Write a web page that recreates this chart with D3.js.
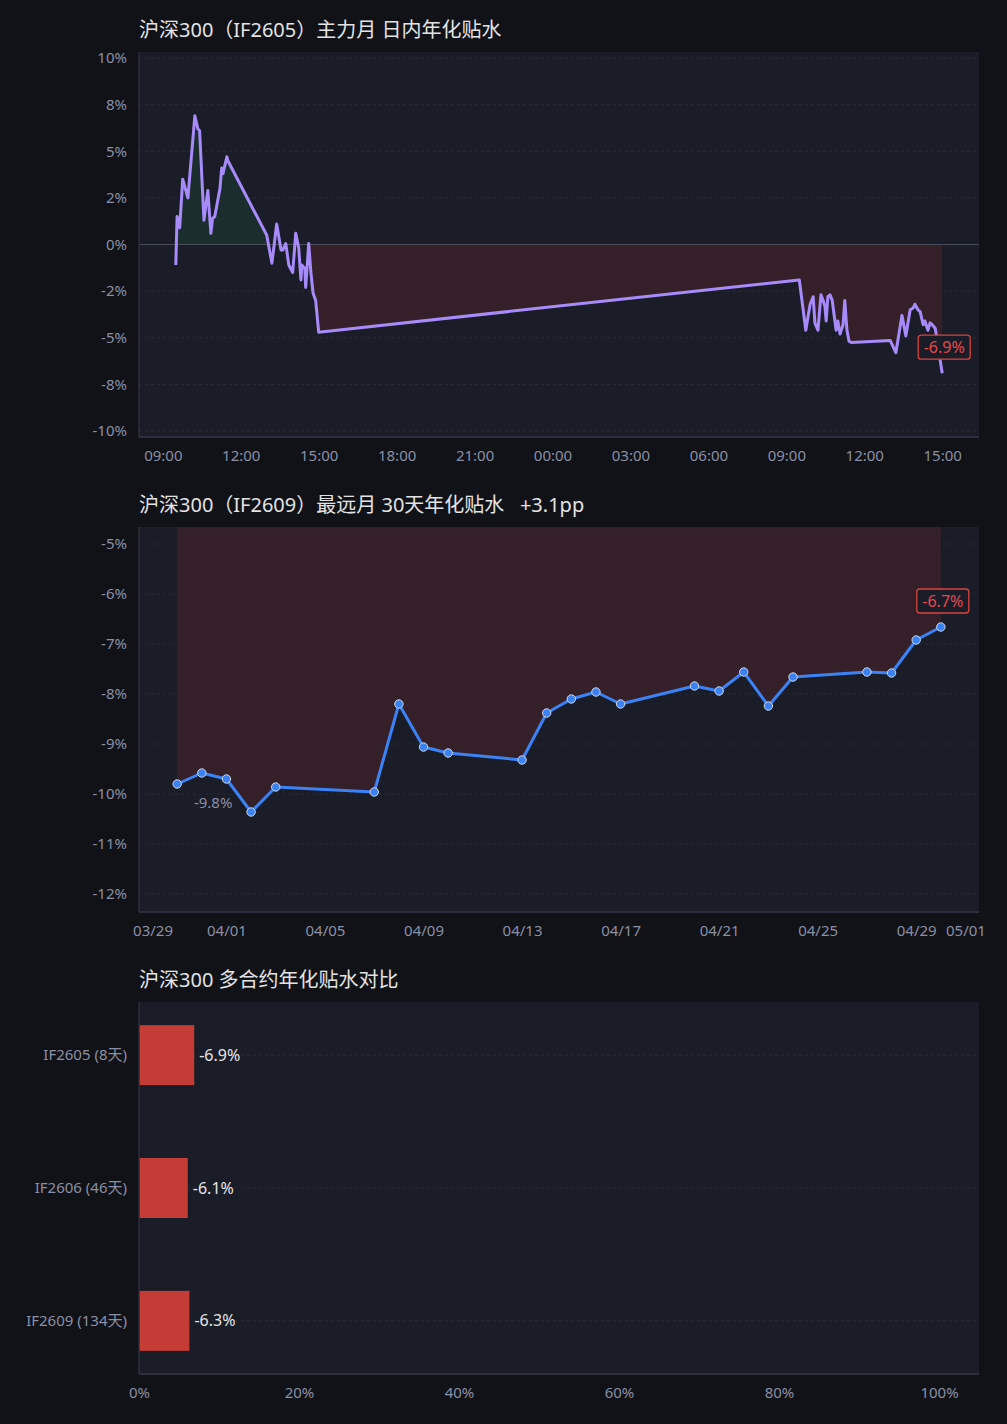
<!DOCTYPE html>
<html lang="zh">
<head>
<meta charset="UTF-8">
<script src="https://d3js.org/d3.v7.min.js"></script>
<style>
body { margin: 0; background: #111217; font-family: "Noto Sans", "Noto Sans CJK SC", sans-serif; }
svg { display: block; }
.tick text { fill: #8a8fa3; font-size: 15px; font-family: "Noto Sans", "Noto Sans CJK SC", sans-serif; }
.grid line { stroke: #272b37; stroke-dasharray: 3,3; }
.title { fill: #e3e3e3; font-size: 20px; white-space: pre; font-family: "Noto Sans", "Noto Sans CJK KR", sans-serif; }
</style>
</head>
<body>
<svg id="chart" width="1007" height="1424"></svg>
<script>
// IF2605 intraday, two sessions
var day1Time = ["09:30","09:33","09:39","09:46","09:58","10:14","10:21","10:25","10:35","10:44","10:51","10:55","11:00","11:12","11:16","11:19","11:28","11:30",
                "13:00","13:12","13:23","13:33","13:37","13:44","13:51","14:00","14:07","14:14","14:19","14:21","14:28","14:30","14:37","14:42","14:47","14:53","15:00"];
var day1Value = [-1.1,1.5,0.9,3.5,2.5,6.9,6.2,6.1,1.3,2.9,0.6,1.4,1.5,3.0,4.1,3.8,4.7,4.5,
                 0.5,-1.0,1.1,-0.3,-0.3,0.05,-1.1,-1.5,0.6,-0.2,-1.9,-1.1,-1.3,-2.3,0.05,-1.5,-2.6,-3.0,-4.7];
var day2Time = ["09:30","09:45","09:55","10:02","10:06","10:13","10:20","10:25","10:29","10:32","10:36","10:41","10:46","10:55","10:59","11:04","11:11","11:15","11:20","11:25","11:30",
                "13:00","13:13","13:27","13:36","13:46","13:53","13:57","14:04","14:09","14:16","14:20","14:27","14:32","14:37","14:44","15:00"];
var day2Value = [-1.9,-4.6,-3.2,-2.8,-4.2,-4.6,-2.7,-3.0,-3.3,-4.1,-2.8,-2.7,-3.0,-4.6,-4.1,-4.8,-4.3,-3.0,-4.6,-5.2,-5.25,
                 -5.15,-5.8,-3.8,-4.9,-3.5,-3.4,-3.2,-3.5,-3.6,-4.3,-4.1,-4.6,-4.2,-4.3,-4.5,-6.9];
var intraYTicks = [-10,-7.5,-5,-2.5,0,2.5,5,7.5,10];
var intraYLabels = ["-10%","-8%","-5%","-2%","0%","2%","5%","8%","10%"];

// IF2609 far month, 30 days
var farDates = ["03/30","03/31","04/01","04/02","04/03","04/07","04/08","04/09","04/10","04/13","04/14","04/15","04/16","04/17",
                "04/20","04/21","04/22","04/23","04/24","04/27","04/28","04/29","04/30"];
var farValues = [-9.8,-9.58,-9.7,-10.36,-9.86,-9.96,-8.2,-9.06,-9.18,-9.32,-8.38,-8.1,-7.96,-8.2,
                 -7.84,-7.94,-7.56,-8.24,-7.66,-7.56,-7.58,-6.92,-6.66];
var farXTicks = ["03/29","04/01","04/05","04/09","04/13","04/17","04/21","04/25","04/29","05/01"];
var farYTicks = [-12,-11,-10,-9,-8,-7,-6,-5];

// contracts compare
var barNames = ["IF2605 (8天)","IF2606 (46天)","IF2609 (134天)"];
var barValues = [-6.9,-6.1,-6.3];
var barTicks = [0,20,40,60,80,100];

var L = 139, R = 979;
var svg = d3.select("#chart");
var fmtPct = function(v) { return v.toFixed(1) + "%"; };

function panel(top, bottom, title) {
  svg.append("rect").attr("x", L).attr("y", top).attr("width", R - L).attr("height", bottom - top).attr("fill", "#1a1d28");
  svg.append("text").attr("class", "title").attr("x", L).attr("y", top - 22).attr("dy", "0.35em").text(title);
}
function frame(top, bottom) {
  svg.append("line").attr("x1", L).attr("x2", L).attr("y1", top).attr("y2", bottom).attr("stroke", "#2b2e3c").attr("stroke-width", 1.5);
  svg.append("line").attr("x1", L).attr("x2", R).attr("y1", bottom).attr("y2", bottom).attr("stroke", "#2b2e3c").attr("stroke-width", 2);
}
function hgrid(ys) {
  svg.append("g").attr("class", "grid").selectAll("line").data(ys).join("line")
    .attr("x1", L).attr("x2", R).attr("y1", d => d).attr("y2", d => d);
}
function tagBox(x, y, txt) {
  var g = svg.append("g").attr("transform", "translate(" + x + "," + y + ")");
  g.append("rect").attr("x", -26).attr("y", -12).attr("width", 52).attr("height", 24).attr("rx", 3)
    .attr("fill", "#1a1d28").attr("stroke", "#d9443c").attr("stroke-width", 1.3);
  g.append("text").attr("text-anchor", "middle").attr("dy", "0.35em").attr("fill", "#e5484d")
    .style("font-size", "16px").text(txt);
}

// ---------- chart 1 ----------
var t1 = 52, b1 = 437;
panel(t1, b1, "沪深300（IF2605）主力月 日内年化贴水");
var parseT = d3.timeParse("%Y-%m-%d %H:%M");
var intra = day1Time.map((t, i) => ({ t: parseT("2026-04-29 " + t), v: day1Value[i] }))
  .concat(day2Time.map((t, i) => ({ t: parseT("2026-04-30 " + t), v: day2Value[i] })));
var tExt = d3.extent(intra, d => d.t);
var tPad = (tExt[1] - tExt[0]) * 0.048;
var x1 = d3.scaleTime().domain([new Date(+tExt[0] - tPad), new Date(+tExt[1] + tPad)]).range([L, R]);
var y1 = d3.scaleLinear().domain([-10.32, 10.32]).range([b1, t1]);
hgrid(intraYTicks.map(y1));

var greenEnd = day1Time.indexOf("13:00");
var redStart = d3.max(intra.map((d, i) => d.v >= 0 ? i : -1));
svg.append("path").datum(intra.slice(0, greenEnd + 1)).attr("fill", "#1b2e2d")
  .attr("d", d3.area().x(d => x1(d.t)).y0(y1(0)).y1(d => y1(Math.max(d.v, 0))));
svg.append("path").datum(intra.slice(redStart)).attr("fill", "#35202a")
  .attr("d", d3.area().x(d => x1(d.t)).y0(y1(0)).y1(d => y1(Math.min(d.v, 0))));
svg.append("line").attr("x1", L).attr("x2", R).attr("y1", y1(0)).attr("y2", y1(0)).attr("stroke", "#4a4d5a").attr("stroke-width", 1);

svg.append("path").datum(intra).attr("fill", "none").attr("stroke", "#a78bfa").attr("stroke-width", 3)
  .attr("stroke-linejoin", "round").attr("d", d3.line().x(d => x1(d.t)).y(d => y1(d.v)));

svg.append("g").attr("transform", "translate(" + L + ",0)")
  .call(d3.axisLeft(y1).tickValues(intraYTicks).tickFormat((d, i) => intraYLabels[i]).tickSize(0).tickPadding(12))
  .call(g => g.select(".domain").remove());
svg.append("g").attr("transform", "translate(0," + b1 + ")")
  .call(d3.axisBottom(x1).ticks(d3.timeHour.every(3)).tickFormat(d3.timeFormat("%H:%M")).tickSize(0).tickPadding(13))
  .call(g => g.select(".domain").remove());
frame(t1, b1);
var last1 = intra[intra.length - 1];
tagBox(x1(last1.t) + 2, y1(last1.v) - 26, fmtPct(last1.v));

// ---------- chart 2 ----------
var t2 = 527, b2 = 912;
var farChange = farValues[farValues.length - 1] - farValues[0];
panel(t2, b2, "沪深300（IF2609）最远月 30天年化贴水   " + (farChange >= 0 ? "+" : "") + farChange.toFixed(1) + "pp");
var parseD = d3.timeParse("%Y/%m/%d");
var far = farDates.map((d, i) => ({ t: parseD("2026/" + d), v: farValues[i] }));
var dExt = d3.extent(far, d => d.t);
var dPad = (dExt[1] - dExt[0]) * 0.05;
var x2 = d3.scaleTime().domain([new Date(+dExt[0] - dPad), new Date(+dExt[1] + dPad)]).range([L, R]);
var vExt = d3.extent(farValues);
var y2 = d3.scaleLinear().domain([vExt[0] - 2, vExt[1] + 2]).range([b2, t2]);
hgrid(farYTicks.map(y2));

svg.append("path").datum(far).attr("fill", "#35202a")
  .attr("d", d3.area().x(d => x2(d.t)).y0(t2).y1(d => y2(d.v)));
svg.append("path").datum(far).attr("fill", "none").attr("stroke", "#3b82f6").attr("stroke-width", 3)
  .attr("stroke-linejoin", "round").attr("d", d3.line().x(d => x2(d.t)).y(d => y2(d.v)));
svg.append("g").selectAll("circle").data(far).join("circle")
  .attr("cx", d => x2(d.t)).attr("cy", d => y2(d.v)).attr("r", 4.2)
  .attr("fill", "#3b82f6").attr("stroke", "#d0d8e8").attr("stroke-width", 1);

svg.append("g").attr("transform", "translate(" + L + ",0)")
  .call(d3.axisLeft(y2).tickValues(farYTicks).tickFormat(d => d + "%").tickSize(0).tickPadding(12))
  .call(g => g.select(".domain").remove());
svg.append("g").attr("transform", "translate(0," + b2 + ")")
  .call(d3.axisBottom(x2).tickValues(farXTicks.map(d => parseD("2026/" + d)))
    .tickFormat(d3.timeFormat("%m/%d")).tickSize(0).tickPadding(13))
  .call(g => g.select(".domain").remove());
frame(t2, b2);
var first2 = far[0], last2 = far[far.length - 1];
svg.append("text").attr("x", x2(first2.t) + 36).attr("y", y2(first2.v) + 19).attr("dy", "0.35em")
  .attr("text-anchor", "middle").attr("fill", "#8a8fa3").style("font-size", "15px").text(fmtPct(first2.v));
tagBox(x2(last2.t) + 2, y2(last2.v) - 26, fmtPct(last2.v));

// ---------- chart 3 ----------
var t3 = 1002, b3 = 1374;
panel(t3, b3, "沪深300 多合约年化贴水对比");
var x3 = d3.scaleLinear().domain([0, 105]).range([L, R]);
var y3 = d3.scalePoint().domain(barNames).range([t3, b3]).padding(0.4);
hgrid(barNames.map(y3));
svg.append("g").selectAll("rect").data(barNames).join("rect")
  .attr("x", L).attr("y", d => y3(d) - 30).attr("height", 60)
  .attr("width", (d, i) => x3(Math.abs(barValues[i])) - L).attr("fill", "#c43c35");
svg.append("g").selectAll("text").data(barNames).join("text")
  .attr("x", (d, i) => x3(Math.abs(barValues[i])) + 5).attr("y", d => y3(d)).attr("dy", "0.35em")
  .attr("fill", "#e6e6e6").style("font-size", "16px").text((d, i) => fmtPct(barValues[i]));
svg.append("g").attr("transform", "translate(" + L + ",0)")
  .call(d3.axisLeft(y3).tickSize(0).tickPadding(12))
  .call(g => g.select(".domain").remove());
svg.append("g").attr("transform", "translate(0," + b3 + ")")
  .call(d3.axisBottom(x3).tickValues(barTicks).tickFormat(d => d + "%").tickSize(0).tickPadding(13))
  .call(g => g.select(".domain").remove());
frame(t3, b3);
</script>
</body>
</html>
